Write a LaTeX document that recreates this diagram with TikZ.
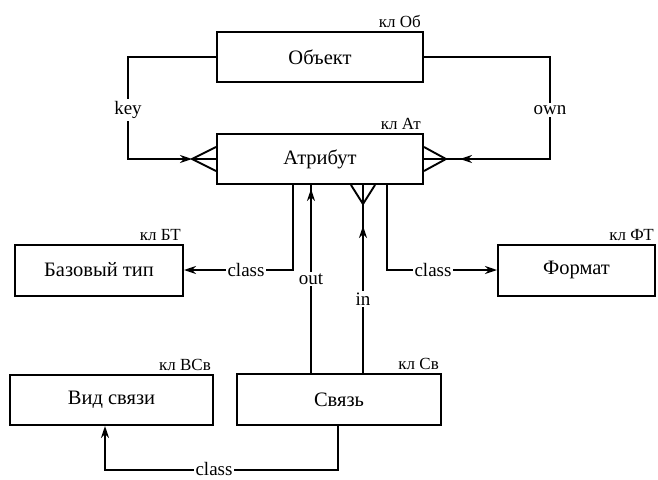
\documentclass[tikz,border=0pt]{standalone}
\usepackage{fontspec}
\setmainfont{Liberation Serif}
\usetikzlibrary{arrows.meta,calc,decorations.markings}
\begin{document}
\begin{tikzpicture}[x=1pt,y=1pt,
  ent/.style={draw, line width=2pt, fill=white, inner sep=0pt, font=\fontsize{20.5}{23}\selectfont},
  tag/.style={anchor=south east, inner sep=1pt, font=\fontsize{17}{19}\selectfont},
  conn/.style={line width=1.9pt},
  lab/.style={fill=white, inner sep=2pt, font=\fontsize{19}{21}\selectfont},
  tip/.style={-{Stealth[length=12pt,width=8pt]}},
  midtip/.style={postaction={decorate}, decoration={markings, mark=at position #1 with {\arrow{Stealth[length=12pt,width=8pt]}}}},
]
\useasboundingbox (0,0) rectangle (658,-479);
% entities
\node[ent, minimum width=206pt, minimum height=50pt] (ob) at (320,-57) {Объект};
\node[ent, minimum width=206pt, minimum height=50pt] (at) at (320,-159) {Атрибут};
\node[ent, minimum width=168pt, minimum height=51pt] (bt) at (99,-270) {Базовый тип};
\node[ent, minimum width=157pt, minimum height=51pt] (ft) at (576.5,-270) {Формат};
\node[ent, minimum width=203pt, minimum height=50pt] (vs) at (111.5,-400) {Вид связи};
\node[ent, minimum width=204pt, minimum height=51pt] (sv) at (339,-399.5) {Связь};
% key tags
\node[tag] (lob) at ($(ob.north east)+(-2,2)$) {кл Об};
\node[tag] (lat) at ($(at.north east)+(-2,2)$) {кл Ат};
\node[tag] (lbt) at ($(bt.north east)+(-2,2)$) {кл БТ};
\node[tag] (lft) at ($(ft.north east)+(-1,2)$) {кл ФТ};
\node[tag] (lvs) at ($(vs.north east)+(-2,2)$) {кл ВСв};
\node[tag] (lsv) at ($(sv.north east)+(-2,2)$) {кл Св};
% key connector
\coordinate (kc) at (128,-57);
\coordinate (kapex) at ($(at.west)+(-24,0)$);
\draw[conn, tip] (ob.west) -- (kc) |- (kapex);
\draw[conn] ($(at.west)+(0,12)$) -- (kapex) -- ($(at.west)+(0,-12)$) (kapex) -- (at.west);
\node[lab] (lkey) at (128,-110) {key};
% own connector
\coordinate (oc) at (550,-57);
\coordinate (oapex) at ($(at.east)+(22,0)$);
\draw[conn, midtip=-14pt] (ob.east) -- (oc) |- (oapex);
\draw[conn] ($(at.east)+(0,12)$) -- (oapex) -- ($(at.east)+(0,-12)$) (oapex) -- (at.east);
\node[lab] (lown) at (550,-110) {own};
% class to base type
\coordinate (lc) at (293,0);
\draw[conn, tip] (at.south -| lc) |- (bt.east);
\node[lab] (lcl1) at (246,-270) {class};
% class to format
\coordinate (rc) at (387,0);
\draw[conn, tip] (at.south -| rc) |- (ft.west);
\node[lab] (lcl2) at (433,-270) {class};
% out
\coordinate (ox) at (311,0);
\draw[conn, midtip=-4pt] (sv.north -| ox) -- (at.south -| ox);
\node[lab] (lout) at (311,-279) {out};
% in
\coordinate (iapex) at (363,-204);
\draw[conn, midtip=-22pt] (sv.north -| iapex) -- (iapex);
\draw[conn] ($(at.south -| iapex)+(-12,0)$) -- (iapex) -- ($(at.south -| iapex)+(12,0)$) (iapex) -- (at.south -| iapex);
\node[lab] (lin) at (363,-299) {in};
% class from link to link kind
\coordinate (bc1) at (338,-470);
\coordinate (bc2) at (105,-470);
\draw[conn, tip] (sv.south -| bc1) -- (bc1) -- (bc2) -- (vs.south -| bc2);
\node[lab] (lcl3) at (214,-469) {class};
\end{tikzpicture}
\end{document}
